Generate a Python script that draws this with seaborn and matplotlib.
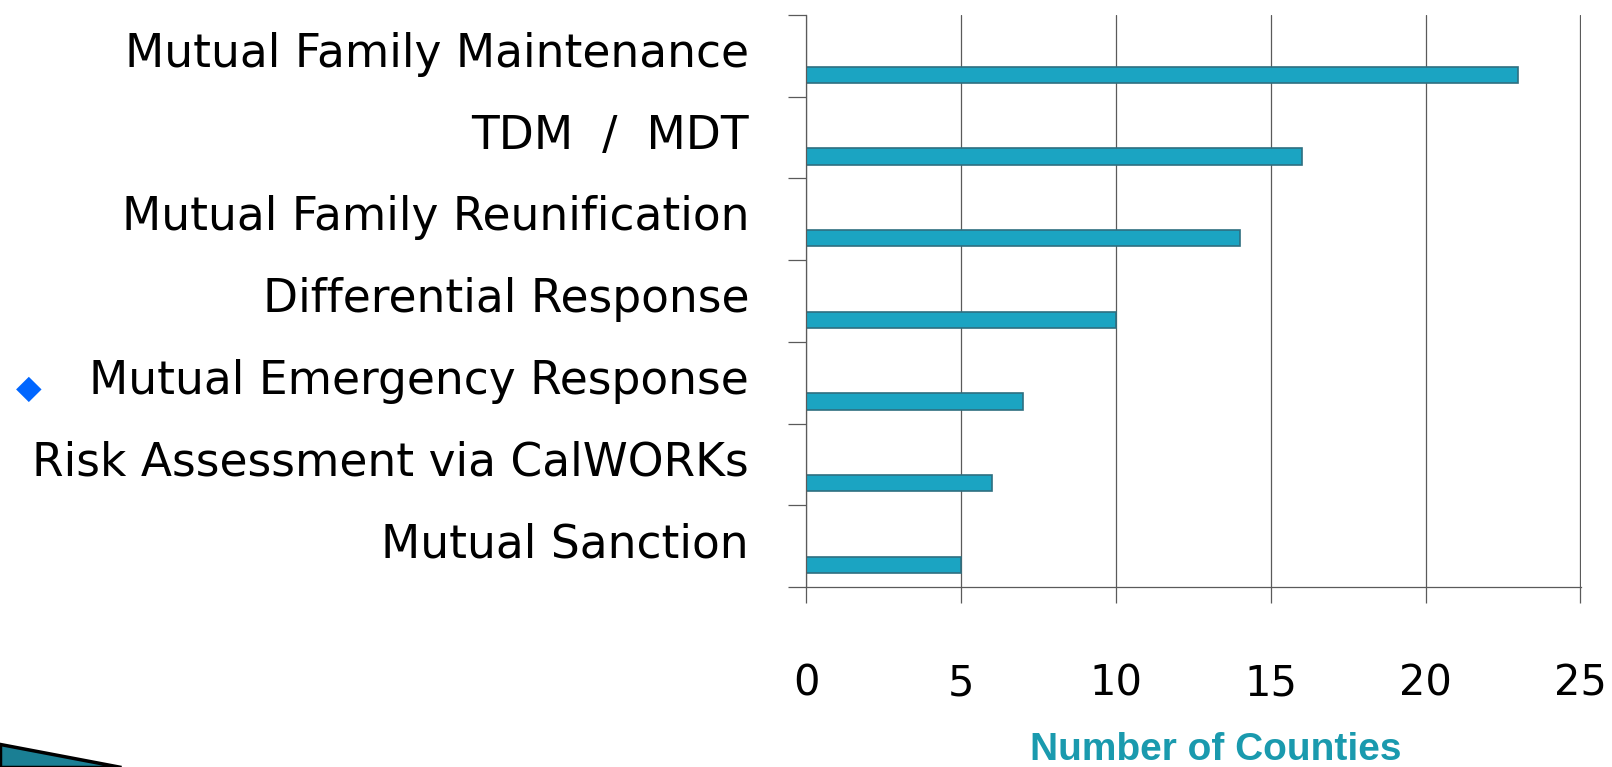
import numpy as np
import pandas as pd
import matplotlib
matplotlib.use("Agg")
import matplotlib.pyplot as plt
import seaborn as sns
from matplotlib.patches import Polygon

# Data
categories = [
    "Mutual Family Maintenance",
    "TDM  /  MDT",
    "Mutual Family Reunification",
    "Differential Response",
    "Mutual Emergency Response",
    "Risk Assessment via CalWORKs",
    "Mutual Sanction",
]
counts = [23, 16, 14, 10, 7, 6, 5]
x_ticks = [0, 5, 10, 15, 20, 25]
x_label = "Number of Counties"

bar_color = "#1BA4C2"
edge_color = "#2F6F80"
grid_color = "#5A5A5A"
label_color = "#1A9AAE"

sns.set_style("white")
plt.rcParams["font.family"] = ["DejaVu Sans"]
plt.rcParams["text.color"] = "black"
plt.rcParams["xtick.color"] = "black"
plt.rcParams["ytick.color"] = "black"

df = pd.DataFrame({"category": categories, "count": counts})

fig = plt.figure(figsize=(16.12, 7.67), dpi=100)
ax = fig.add_axes([0.5, 0.2347, 0.481, 0.7457])

sns.barplot(data=df, x="count", y="category", orient="h", width=0.2,
            color=bar_color, edgecolor=edge_color, linewidth=1.2,
            saturation=1, ax=ax)

n = len(categories)
ax.set_ylim(n - 0.73, -0.73)
ax.set_xlim(0, 25.03)

# x axis: gridlines + long ticks, labels well below
ax.set_xticks(x_ticks)
ax.set_xticklabels([str(t) for t in x_ticks], fontsize=30, color="black")
ax.tick_params(axis="x", direction="out", length=11.5, width=0.9,
               color=grid_color, pad=43, bottom=True)
ax.xaxis.grid(True, color=grid_color, linewidth=0.9)
ax.set_axisbelow(True)

# y axis: boundary tick marks (minor) and labels offset above the bars
ax.set_yticks(np.arange(n) - 0.31)
ax.set_yticklabels(categories, fontsize=32.8, color="black")
ax.tick_params(axis="y", which="major", length=0, pad=41)
ax.set_yticks(np.arange(n + 1) - 0.73, minor=True)
ax.tick_params(axis="y", which="minor", direction="out", length=13,
               width=0.9, color=grid_color, left=True)

for side in ["top", "right"]:
    ax.spines[side].set_visible(False)
for side in ["left", "bottom"]:
    ax.spines[side].set_color(grid_color)
    ax.spines[side].set_linewidth(0.9)

ax.set_ylabel("")
ax.set_xlabel("")
fig.text(0.754, 0.022, x_label, ha="center", va="center", fontsize=28,
         fontweight="bold", color=label_color,
         family=["Liberation Sans", "DejaVu Sans"])

# slide bullet and corner decoration
fig.text(0.018, 0.493, "\u25c6", ha="center", va="center", fontsize=24,
         color="#0066FF")
fig.patches.append(Polygon([[0, 0.03], [0.0, 0.0], [0.075, 0.0]],
                           closed=True, transform=fig.transFigure,
                           facecolor="#1A7F94", edgecolor="black",
                           linewidth=2.5))

fig.savefig("out.png", dpi=100)
